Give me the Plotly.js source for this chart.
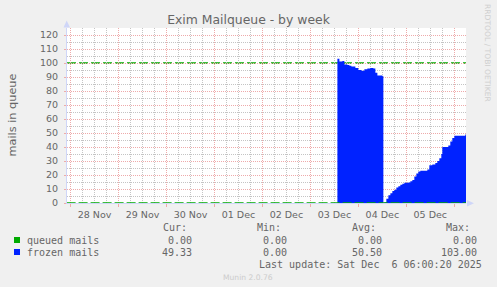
<!DOCTYPE html>
<html>
<head>
<meta charset="utf-8">
<script src="https://cdn.plot.ly/plotly-3.0.1.min.js"></script>
<style>html,body{margin:0;padding:0;background:#f0f0f0;}#chart{width:497px;height:287px;}</style>
</head>
<body>
<div id="chart"></div>
<script>
// ---- data ----
const chartTitle = 'Exim Mailqueue - by week';
const yAxisTitle = 'mails in queue';
const timeRange = ['2025-11-27 22:12', '2025-12-06 05:51'];

const queuedTimes = ['2025-11-27 22:00', '2025-12-06 06:00'];
const queuedValues = [0, 0];

const frozenTimes = [
  '2025-11-27 22:00', '2025-12-03 13:00',
  '2025-12-03 13:30', '2025-12-03 14:30', '2025-12-03 16:00', '2025-12-03 17:00',
  '2025-12-03 18:30', '2025-12-03 19:30', '2025-12-03 20:30', '2025-12-03 21:30',
  '2025-12-03 22:30', '2025-12-04 00:00', '2025-12-04 01:30', '2025-12-04 03:00',
  '2025-12-04 04:30', '2025-12-04 06:00', '2025-12-04 07:30', '2025-12-04 08:30',
  '2025-12-04 09:30', '2025-12-04 11:00', '2025-12-04 12:00', '2025-12-04 12:30',
  '2025-12-04 13:00', '2025-12-04 14:00', '2025-12-04 15:00', '2025-12-04 16:00',
  '2025-12-04 17:00', '2025-12-04 18:00', '2025-12-04 19:00', '2025-12-04 20:00',
  '2025-12-04 21:00', '2025-12-04 22:00', '2025-12-04 23:00', '2025-12-05 01:00',
  '2025-12-05 02:00', '2025-12-05 03:00', '2025-12-05 04:00', '2025-12-05 05:00',
  '2025-12-05 06:00', '2025-12-05 07:00', '2025-12-05 09:00', '2025-12-05 10:30',
  '2025-12-05 11:30', '2025-12-05 13:00', '2025-12-05 14:30', '2025-12-05 15:30',
  '2025-12-05 16:30', '2025-12-05 17:30', '2025-12-05 18:00', '2025-12-05 20:00',
  '2025-12-05 21:00', '2025-12-05 22:00', '2025-12-05 23:00', '2025-12-06 00:00',
  '2025-12-06 05:00', '2025-12-06 05:30', '2025-12-06 06:00'
];
const frozenValues = [
  0, 0,
  103, 101, 101.5, 99,
  98.5, 98, 97.5, 97.5,
  96.5, 95, 94.5, 95.5,
  96, 96.5, 96, 93,
  91, 91, 90.5, 0,
  0.5, 3, 5.5, 7,
  8.5, 9.5, 11, 12,
  13, 13.8, 14.5, 14.7,
  15.5, 16.5, 19, 21,
  22.5, 23, 23, 24,
  27, 27.5, 28.5, 30,
  32, 35, 40, 40,
  41, 44, 46.5, 48,
  48, 49, 49
];

const warningLevel = 100;

const legendNames = ['queued mails', 'frozen mails'];
const legendColors = ['#00aa00', '#0022ff'];
const statHeaders = ['Cur:', 'Min:', 'Avg:', 'Max:'];
const statCur = [0.00, 49.33];
const statMin = [0.00, 0.00];
const statAvg = [0.00, 50.50];
const statMax = [0.00, 103.00];
const lastUpdate = 'Last update: Sat Dec \u00a06 06:00:20 2025';
const watermark = 'RRDTOOL / TOBI OETIKER';
const footer = 'Munin 2.0.76';

// ---- layout helpers ----
const W = 497, H = 287, ML = 67, MR = 31, MT = 28, MB = 84;
const PW = W - ML - MR, PH = H - MT - MB;
const px = x => (x - ML) / PW;
const py = y => 1 - (y - MT) / PH;

const FONT = 'DejaVu Sans, Verdana, sans-serif';
const MONO = 'DejaVu Sans Mono, monospace';
const TXT = '#666666';
const AXIS = '#cfd6f8';
const MGRID = '#eeaaaa';
const GRID = '#c4c4c4';

const traces = [
  {
    x: frozenTimes, y: frozenValues, type: 'scatter', mode: 'lines',
    line: {shape: 'hv', width: 0, color: legendColors[1]},
    fill: 'tozeroy', fillcolor: legendColors[1], hoverinfo: 'skip'
  },
  {
    x: queuedTimes, y: queuedValues, type: 'scatter', mode: 'lines',
    line: {shape: 'hv', width: 1.3, color: legendColors[0], dash: '9px,3px'},
    hoverinfo: 'skip', cliponaxis: false
  }
];

const annotations = [];
const shapes = [];

annotations.push({text: yAxisTitle, xref: 'paper', yref: 'paper', x: px(11.5), y: py(115),
  textangle: -90, showarrow: false, xanchor: 'center', yanchor: 'middle',
  font: {family: FONT, size: 11.3, color: TXT}});
annotations.push({text: watermark, xref: 'paper', yref: 'paper', x: px(487), y: py(53),
  textangle: 90, showarrow: false, xanchor: 'center', yanchor: 'middle',
  font: {family: FONT, size: 7.6, color: '#cfcfcf'}});

const headerRight = [187.5, 282, 377, 471.5];
const valueRight = [193, 287.5, 383, 477.5];
const rowY = [240, 252];
statHeaders.forEach((h, i) => {
  annotations.push({text: h, xref: 'paper', yref: 'paper', x: px(headerRight[i]), y: py(227.5),
    showarrow: false, xanchor: 'right', yanchor: 'middle', borderpad: 0,
    font: {family: MONO, size: 10, color: TXT}});
});
const stats = [statCur, statMin, statAvg, statMax];
legendNames.forEach((name, r) => {
  shapes.push({type: 'rect', xref: 'paper', yref: 'paper', x0: px(14), x1: px(20),
    y0: py(rowY[r] - 3), y1: py(rowY[r] + 3), fillcolor: legendColors[r], line: {width: 0}, layer: 'above'});
  annotations.push({text: name, xref: 'paper', yref: 'paper', x: px(26), y: py(rowY[r]),
    showarrow: false, xanchor: 'left', yanchor: 'middle', borderpad: 0,
    font: {family: MONO, size: 10, color: TXT}});
  stats.forEach((arr, c) => {
    annotations.push({text: arr[r].toFixed(2), xref: 'paper', yref: 'paper', x: px(valueRight[c]), y: py(rowY[r]),
      showarrow: false, xanchor: 'right', yanchor: 'middle', borderpad: 0,
      font: {family: MONO, size: 10, color: TXT}});
  });
});
annotations.push({text: lastUpdate, xref: 'paper', yref: 'paper', x: px(483.5), y: py(264),
  showarrow: false, xanchor: 'right', yanchor: 'middle', borderpad: 0,
  font: {family: MONO, size: 10, color: TXT}});
annotations.push({text: footer, xref: 'paper', yref: 'paper', x: px(248), y: py(277),
  showarrow: false, xanchor: 'center', yanchor: 'middle', borderpad: 0,
  font: {family: FONT, size: 7.6, color: '#cccccc'}});

// warning rule
shapes.push({type: 'line', xref: 'paper', yref: 'y', x0: 0, x1: 1, y0: warningLevel, y1: warningLevel,
  line: {color: legendColors[0], width: 1.3, dash: '9px,3px'}, layer: 'below'});
// axis arrows
shapes.push({type: 'path', xref: 'paper', yref: 'paper',
  path: `M ${px(63.5)} ${py(27.5)} L ${px(66.7)} ${py(20.5)} L ${px(70)} ${py(27.5)} Z`,
  fillcolor: AXIS, line: {width: 0}, layer: 'above'});
shapes.push({type: 'path', xref: 'paper', yref: 'paper',
  path: `M ${px(467)} ${py(200)} L ${px(474)} ${py(203.3)} L ${px(467)} ${py(206.6)} Z`,
  fillcolor: AXIS, line: {width: 0}, layer: 'above'});

const layout = {
  width: W, height: H,
  margin: {l: ML, r: MR, t: MT, b: MB, pad: 0},
  paper_bgcolor: '#f0f0f0', plot_bgcolor: '#ffffff',
  showlegend: false,
  title: {text: chartTitle, x: 0.5, xref: 'container', xanchor: 'center',
    y: 1 - 19.3 / H, yref: 'container', yanchor: 'middle',
    font: {family: FONT, size: 12.4, color: TXT}},
  xaxis: {
    type: 'date', range: timeRange, fixedrange: true,
    tick0: '2025-11-28 00:00', dtick: 86400000, tickformat: '%d %b', ticklabelmode: 'period',
    ticks: 'outside', ticklen: 3, tickcolor: MGRID, tickwidth: 1,
    showgrid: true, gridcolor: MGRID, griddash: '1px,1px', gridwidth: 1,
    minor: {tick0: '2025-11-28 00:00', dtick: 21600000, showgrid: true, gridcolor: GRID, griddash: '1px,1px', gridwidth: 1},
    showline: true, linecolor: AXIS, linewidth: 1, zeroline: false,
    tickfont: {family: FONT, size: 9.5, color: TXT}
  },
  yaxis: {
    range: [0, 125], fixedrange: true, tick0: 0, dtick: 10,
    ticks: 'outside', ticklen: 2, tickcolor: MGRID, tickwidth: 1, ticklabelstandoff: 4,
    showgrid: true, gridcolor: MGRID, griddash: '1px,1px', gridwidth: 1,
    minor: {tick0: 0, dtick: 5, showgrid: true, gridcolor: GRID, griddash: '1px,1px', gridwidth: 1},
    showline: true, linecolor: AXIS, linewidth: 1, zeroline: false,
    tickfont: {family: FONT, size: 9.5, color: TXT}
  },
  annotations: annotations,
  shapes: shapes
};

Plotly.newPlot('chart', traces, layout, {staticPlot: true, displayModeBar: false});
</script>
</body>
</html>
